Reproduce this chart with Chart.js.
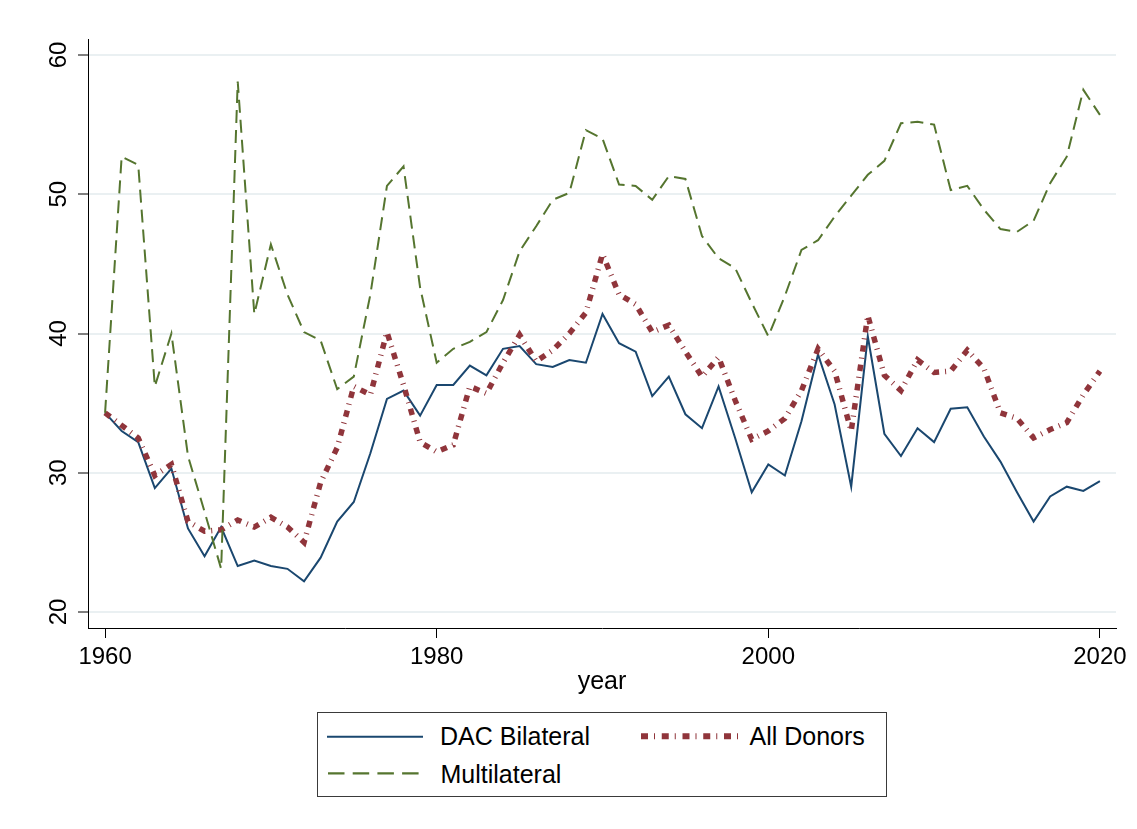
<!DOCTYPE html>
<html>
<head>
<meta charset="utf-8">
<title>Aid shares by donor type</title>
<script src="https://cdn.jsdelivr.net/npm/chart.js@4.4.1/dist/chart.umd.min.js"></script>
<style>
  html, body { margin: 0; padding: 0; background: #fff; }
  #wrap { position: relative; width: 1137px; height: 829px; }
  #chart { position: absolute; left: 0; top: 0; }
  #legend { position: absolute; left: 0; top: 0; pointer-events: none; }
  #legend text { font-family: "Liberation Sans", Arial, sans-serif; font-size: 25px; fill: #000; }
</style>
</head>
<body>
<div id="wrap">
  <canvas id="chart" width="1137" height="829"></canvas>
  <svg id="legend" width="1137" height="829" xmlns="http://www.w3.org/2000/svg">
    <rect x="317.5" y="712.5" width="569" height="84" fill="#fff" stroke="#3a3a3a" stroke-width="1"/>
    <line x1="327" y1="736.7" x2="423" y2="736.7" stroke="#1a476f" stroke-width="2"/>
    <text x="440" y="745">DAC Bilateral</text>
    <line x1="641" y1="736.3" x2="738" y2="736.3" stroke="#90353b" stroke-width="6" stroke-dasharray="7 6 1 6.75"/>
    <text x="749.5" y="745">All Donors</text>
    <line x1="328" y1="773.3" x2="420" y2="773.3" stroke="#55752f" stroke-width="2.3" stroke-dasharray="16.5 8.2"/>
    <text x="440.5" y="782.7">Multilateral</text>
  </svg>
</div>
<script>
// Years on the horizontal axis
const years = [
  1960, 1961, 1962, 1963, 1964, 1965, 1966, 1967, 1968, 1969,
  1970, 1971, 1972, 1973, 1974, 1975, 1976, 1977, 1978, 1979,
  1980, 1981, 1982, 1983, 1984, 1985, 1986, 1987, 1988, 1989,
  1990, 1991, 1992, 1993, 1994, 1995, 1996, 1997, 1998, 1999,
  2000, 2001, 2002, 2003, 2004, 2005, 2006, 2007, 2008, 2009,
  2010, 2011, 2012, 2013, 2014, 2015, 2016, 2017, 2018, 2019,
  2020
];

const dacBilateral = [
  34.3, 33.0, 32.2, 28.9, 30.3, 26.0, 24.0, 26.1, 23.3, 23.7,
  23.3, 23.1, 22.2, 23.9, 26.5, 27.9, 31.4, 35.3, 35.9, 34.1,
  36.3, 36.3, 37.7, 37.0, 38.9, 39.1, 37.8, 37.6, 38.1, 37.9,
  41.4, 39.3, 38.7, 35.5, 36.9, 34.2, 33.2, 36.2, 32.5, 28.6,
  30.6, 29.8, 33.7, 38.5, 34.9, 29.0, 39.8, 32.8, 31.2, 33.2,
  32.2, 34.6, 34.7, 32.6, 30.8, 28.6, 26.5, 28.3, 29.0, 28.7,
  29.4
];

const allDonors = [
  34.3, 33.4, 32.5, 29.8, 30.6, 26.5, 25.8, 25.9, 26.6, 26.1,
  26.8, 26.1, 25.0, 29.3, 31.8, 36.2, 35.6, 40.1, 36.3, 32.2,
  31.5, 32.0, 36.2, 35.7, 37.9, 39.9, 38.0, 38.8, 40.0, 41.5,
  45.7, 42.8, 42.1, 40.1, 40.6, 38.7, 36.9, 38.3, 35.2, 32.4,
  33.0, 33.9, 35.9, 38.9, 37.3, 33.0, 41.3, 37.0, 35.9, 38.1,
  37.2, 37.3, 38.8, 37.5, 34.3, 33.9, 32.5, 33.1, 33.6, 35.6,
  37.3
];

const multilateral = [
  34.3, 52.7, 52.1, 36.2, 40.0, 31.2, 27.2, 23.1, 58.1, 41.4,
  46.4, 42.8, 40.1, 39.5, 36.0, 36.9, 42.8, 50.6, 52.0, 43.3,
  37.9, 38.9, 39.4, 40.1, 42.4, 45.9, 47.7, 49.6, 50.1, 54.6,
  54.0, 50.7, 50.6, 49.6, 51.3, 51.1, 47.0, 45.4, 44.7, 42.2,
  39.8, 42.7, 46.0, 46.7, 48.4, 49.9, 51.4, 52.4, 55.1, 55.2,
  55.0, 50.3, 50.6, 48.9, 47.5, 47.3, 48.1, 50.8, 52.7, 57.5,
  55.7
];

// Tick values
const xTicks = [1960, 1980, 2000, 2020];
const yTicks = [20, 30, 40, 50, 60];

const toPoints = (vals) => years.map((yr, i) => ({ x: yr, y: vals[i] }));

const FONT = "'Liberation Sans', Arial, Helvetica, sans-serif";
Chart.defaults.font.family = FONT;
Chart.defaults.color = '#000';

// Vertical (rotated) labels for the value axis
const rotatedYLabels = {
  id: 'rotatedYLabels',
  afterDraw(chart) {
    const sc = chart.scales.y;
    const ctx = chart.ctx;
    ctx.save();
    ctx.font = '24px ' + FONT;
    ctx.fillStyle = '#000';
    ctx.textAlign = 'center';
    ctx.textBaseline = 'alphabetic';
    sc.ticks.forEach(t => {
      const py = sc.getPixelForValue(t.value);
      ctx.save();
      ctx.translate(sc.right - 22, py);
      ctx.rotate(-Math.PI / 2);
      ctx.fillText(String(t.value), 0, 0);
      ctx.restore();
    });
    ctx.restore();
  }
};

new Chart(document.getElementById('chart'), {
  type: 'line',
  data: {
    datasets: [
      {
        label: 'DAC Bilateral',
        data: toPoints(dacBilateral),
        borderColor: '#1a476f',
        borderWidth: 2,
        order: 3
      },
      {
        label: 'All Donors',
        data: toPoints(allDonors),
        borderColor: '#90353b',
        borderWidth: 5.5,
        borderDash: [6.5, 6, 1, 6],
        borderCapStyle: 'butt',
        order: 2
      },
      {
        label: 'Multilateral',
        data: toPoints(multilateral),
        borderColor: '#55752f',
        borderWidth: 2,
        borderDash: [13, 7],
        order: 1
      }
    ]
  },
  options: {
    responsive: false,
    animation: false,
    devicePixelRatio: 1,
    elements: {
      point: { radius: 0, hoverRadius: 0 },
      line: { tension: 0, fill: false, borderJoinStyle: 'miter' }
    },
    layout: { padding: { top: 39, right: 21, left: 0, bottom: 132 } },
    plugins: {
      legend: { display: false },
      tooltip: { enabled: false }
    },
    scales: {
      x: {
        type: 'linear',
        min: 1958.97,
        max: 2020.97,
        afterBuildTicks: (s) => { s.ticks = xTicks.map(v => ({ value: v })); },
        afterFit: (s) => { s.height = 69; },
        ticks: {
          autoSkip: false,
          maxRotation: 0,
          padding: 5,
          font: { size: 24 },
          color: '#000',
          callback: (v) => String(v)
        },
        grid: {
          drawOnChartArea: false,
          drawTicks: true,
          tickLength: 10,
          tickColor: '#000',
          tickWidth: 1
        },
        border: { display: true, color: '#000', width: 1 },
        title: {
          display: true,
          text: 'year',
          font: { size: 25 },
          color: '#000',
          padding: { top: 0, bottom: 0 }
        }
      },
      y: {
        type: 'linear',
        min: 18.85,
        max: 61.15,
        afterBuildTicks: (s) => { s.ticks = yTicks.map(v => ({ value: v })); },
        afterFit: (s) => { s.width = 88; },
        ticks: { display: false },
        grid: {
          color: '#eaf0f2',
          lineWidth: 2,
          drawTicks: true,
          tickLength: 10,
          tickColor: '#000',
          tickWidth: 1
        },
        border: { display: true, color: '#000', width: 1 }
      }
    }
  },
  plugins: [rotatedYLabels]
});
</script>
</body>
</html>
